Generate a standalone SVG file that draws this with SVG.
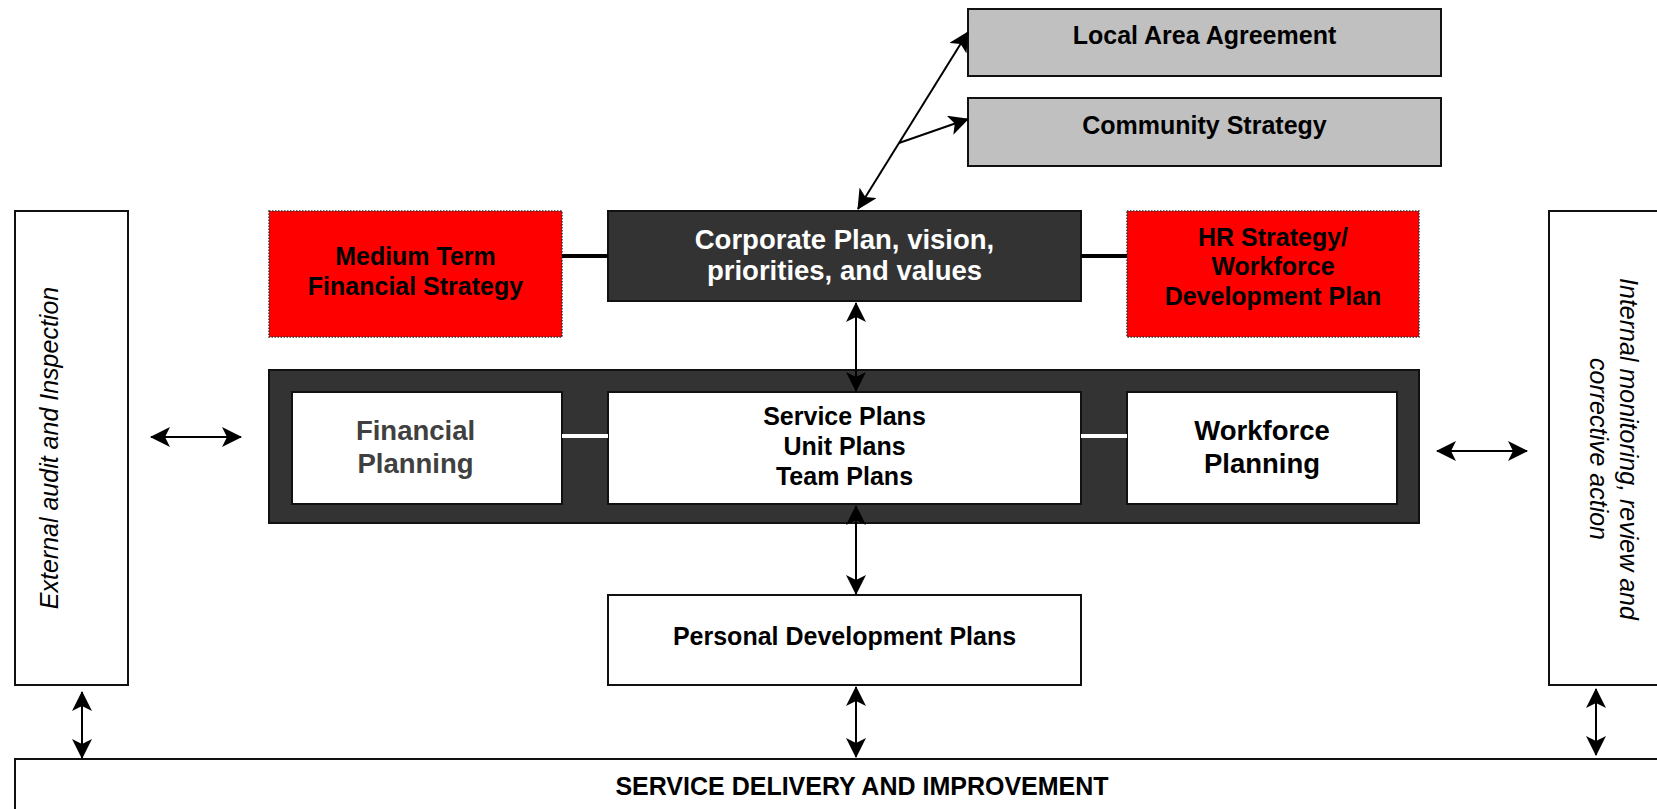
<svg xmlns="http://www.w3.org/2000/svg" width="1657" height="809" viewBox="0 0 1657 809">
  <defs>
    <style>
      text { font-family: "Liberation Sans", Arial, Helvetica, sans-serif; }
      .b { font-weight: bold; font-size: 25px; fill: #000; text-anchor: middle; }
      .big { font-weight: bold; font-size: 27.5px; text-anchor: middle; }
      .it { font-style: italic; font-size: 25px; fill: #000; text-anchor: middle; }
      .box { fill: #fff; stroke: #111; stroke-width: 2; }
      .grey { fill: #c0c0c0; stroke: #111; stroke-width: 2; }
      .dark { fill: #333; stroke: #111; stroke-width: 2; }
      .red { fill: #ff0000; stroke: #333; stroke-width: 1.5; stroke-dasharray: 1.5 1.5; }
      .arrow { fill: none; stroke: #000; stroke-width: 2; marker-start: url(#ah); marker-end: url(#ah); }
      .one { fill: none; stroke: #000; stroke-width: 2; marker-end: url(#ah); }
      .link { stroke: #000; stroke-width: 4; }
      .wlink { stroke: #fff; stroke-width: 4; }
    </style>
    <marker id="ah" viewBox="0 0 20 20" refX="19" refY="10" markerWidth="20" markerHeight="20" markerUnits="userSpaceOnUse" orient="auto-start-reverse">
      <path d="M0,0 L20,10 L0,20 L5,10 z" fill="#000"/>
    </marker>
  </defs>

  <rect width="1657" height="809" fill="#fff"/>

  <!-- partner strategies -->
  <g id="local-area-agreement">
    <rect class="grey" x="968" y="9" width="473" height="67"/>
    <text class="b" x="1204.5" y="44">Local Area Agreement</text>
  </g>
  <g id="community-strategy">
    <rect class="grey" x="968" y="98" width="473" height="68"/>
    <text class="b" x="1204.5" y="134">Community Strategy</text>
  </g>

  <!-- side panels -->
  <g id="external-audit">
    <rect class="box" x="15" y="211" width="113" height="474"/>
    <text class="it" transform="translate(58,448) rotate(-90)">External audit and Inspection</text>
  </g>
  <g id="internal-monitoring">
    <rect class="box" x="1549" y="211" width="130" height="474"/>
    <text class="it" transform="translate(1620,449) rotate(90)">Internal monitoring, review and</text>
    <text class="it" transform="translate(1590,449) rotate(90)">corrective action</text>
  </g>

  <!-- strategy tier -->
  <g id="medium-term-financial-strategy">
    <rect class="red" x="269" y="211" width="293" height="126"/>
    <text class="b" x="415.5" y="265">Medium Term</text>
    <text class="b" x="415.5" y="295">Financial Strategy</text>
  </g>
  <g id="corporate-plan">
    <rect class="dark" x="608" y="211" width="473" height="90"/>
    <text class="big" fill="#fff" x="844.5" y="249">Corporate Plan, vision,</text>
    <text class="big" fill="#fff" x="844.5" y="280">priorities, and values</text>
  </g>
  <g id="hr-strategy">
    <rect class="red" x="1127" y="211" width="292" height="126"/>
    <text class="b" x="1273" y="246">HR Strategy/</text>
    <text class="b" x="1273" y="275">Workforce</text>
    <text class="b" x="1273" y="305">Development Plan</text>
  </g>

  <!-- planning tier -->
  <g id="planning-frame">
    <rect class="dark" x="269" y="370" width="1150" height="153"/>
  </g>
  <g id="financial-planning">
    <rect class="box" x="292" y="392" width="270" height="112"/>
    <text class="big" fill="#404040" x="415.5" y="440">Financial</text>
    <text class="big" fill="#404040" x="415.5" y="473">Planning</text>
  </g>
  <g id="service-plans">
    <rect class="box" x="608" y="392" width="473" height="112"/>
    <text class="b" x="844.5" y="425">Service Plans</text>
    <text class="b" x="844.5" y="455">Unit Plans</text>
    <text class="b" x="844.5" y="485">Team Plans</text>
  </g>
  <g id="workforce-planning">
    <rect class="box" x="1127" y="392" width="270" height="112"/>
    <text class="big" fill="#000" x="1262" y="440">Workforce</text>
    <text class="big" fill="#000" x="1262" y="473">Planning</text>
  </g>

  <g id="personal-development-plans">
    <rect class="box" x="608" y="595" width="473" height="90"/>
    <text class="b" x="844.5" y="645">Personal Development Plans</text>
  </g>

  <g id="service-delivery">
    <rect class="box" x="15" y="759" width="1700" height="100"/>
    <text class="b" x="862" y="795">SERVICE DELIVERY AND IMPROVEMENT</text>
  </g>

  <!-- connectors -->
  <g id="connectors">
    <line class="link" x1="562" y1="256" x2="608" y2="256"/>
    <line class="link" x1="1081" y1="256" x2="1127" y2="256"/>
    <line class="wlink" x1="562" y1="436" x2="608" y2="436"/>
    <line class="wlink" x1="1081" y1="436" x2="1127" y2="436"/>

    <line class="arrow" x1="858" y1="209" x2="968" y2="32"/>
    <line class="one" x1="899" y1="143" x2="968" y2="119"/>

    <line class="arrow" x1="856" y1="303" x2="856" y2="391"/>
    <line class="arrow" x1="856" y1="506" x2="856" y2="594"/>
    <line class="arrow" x1="856" y1="687" x2="856" y2="757"/>

    <line class="arrow" x1="151" y1="437" x2="241" y2="437"/>
    <line class="arrow" x1="1437" y1="451" x2="1527" y2="451"/>
    <line class="arrow" x1="82" y1="692" x2="82" y2="758"/>
    <line class="arrow" x1="1596" y1="689" x2="1596" y2="755"/>
  </g>
</svg>
